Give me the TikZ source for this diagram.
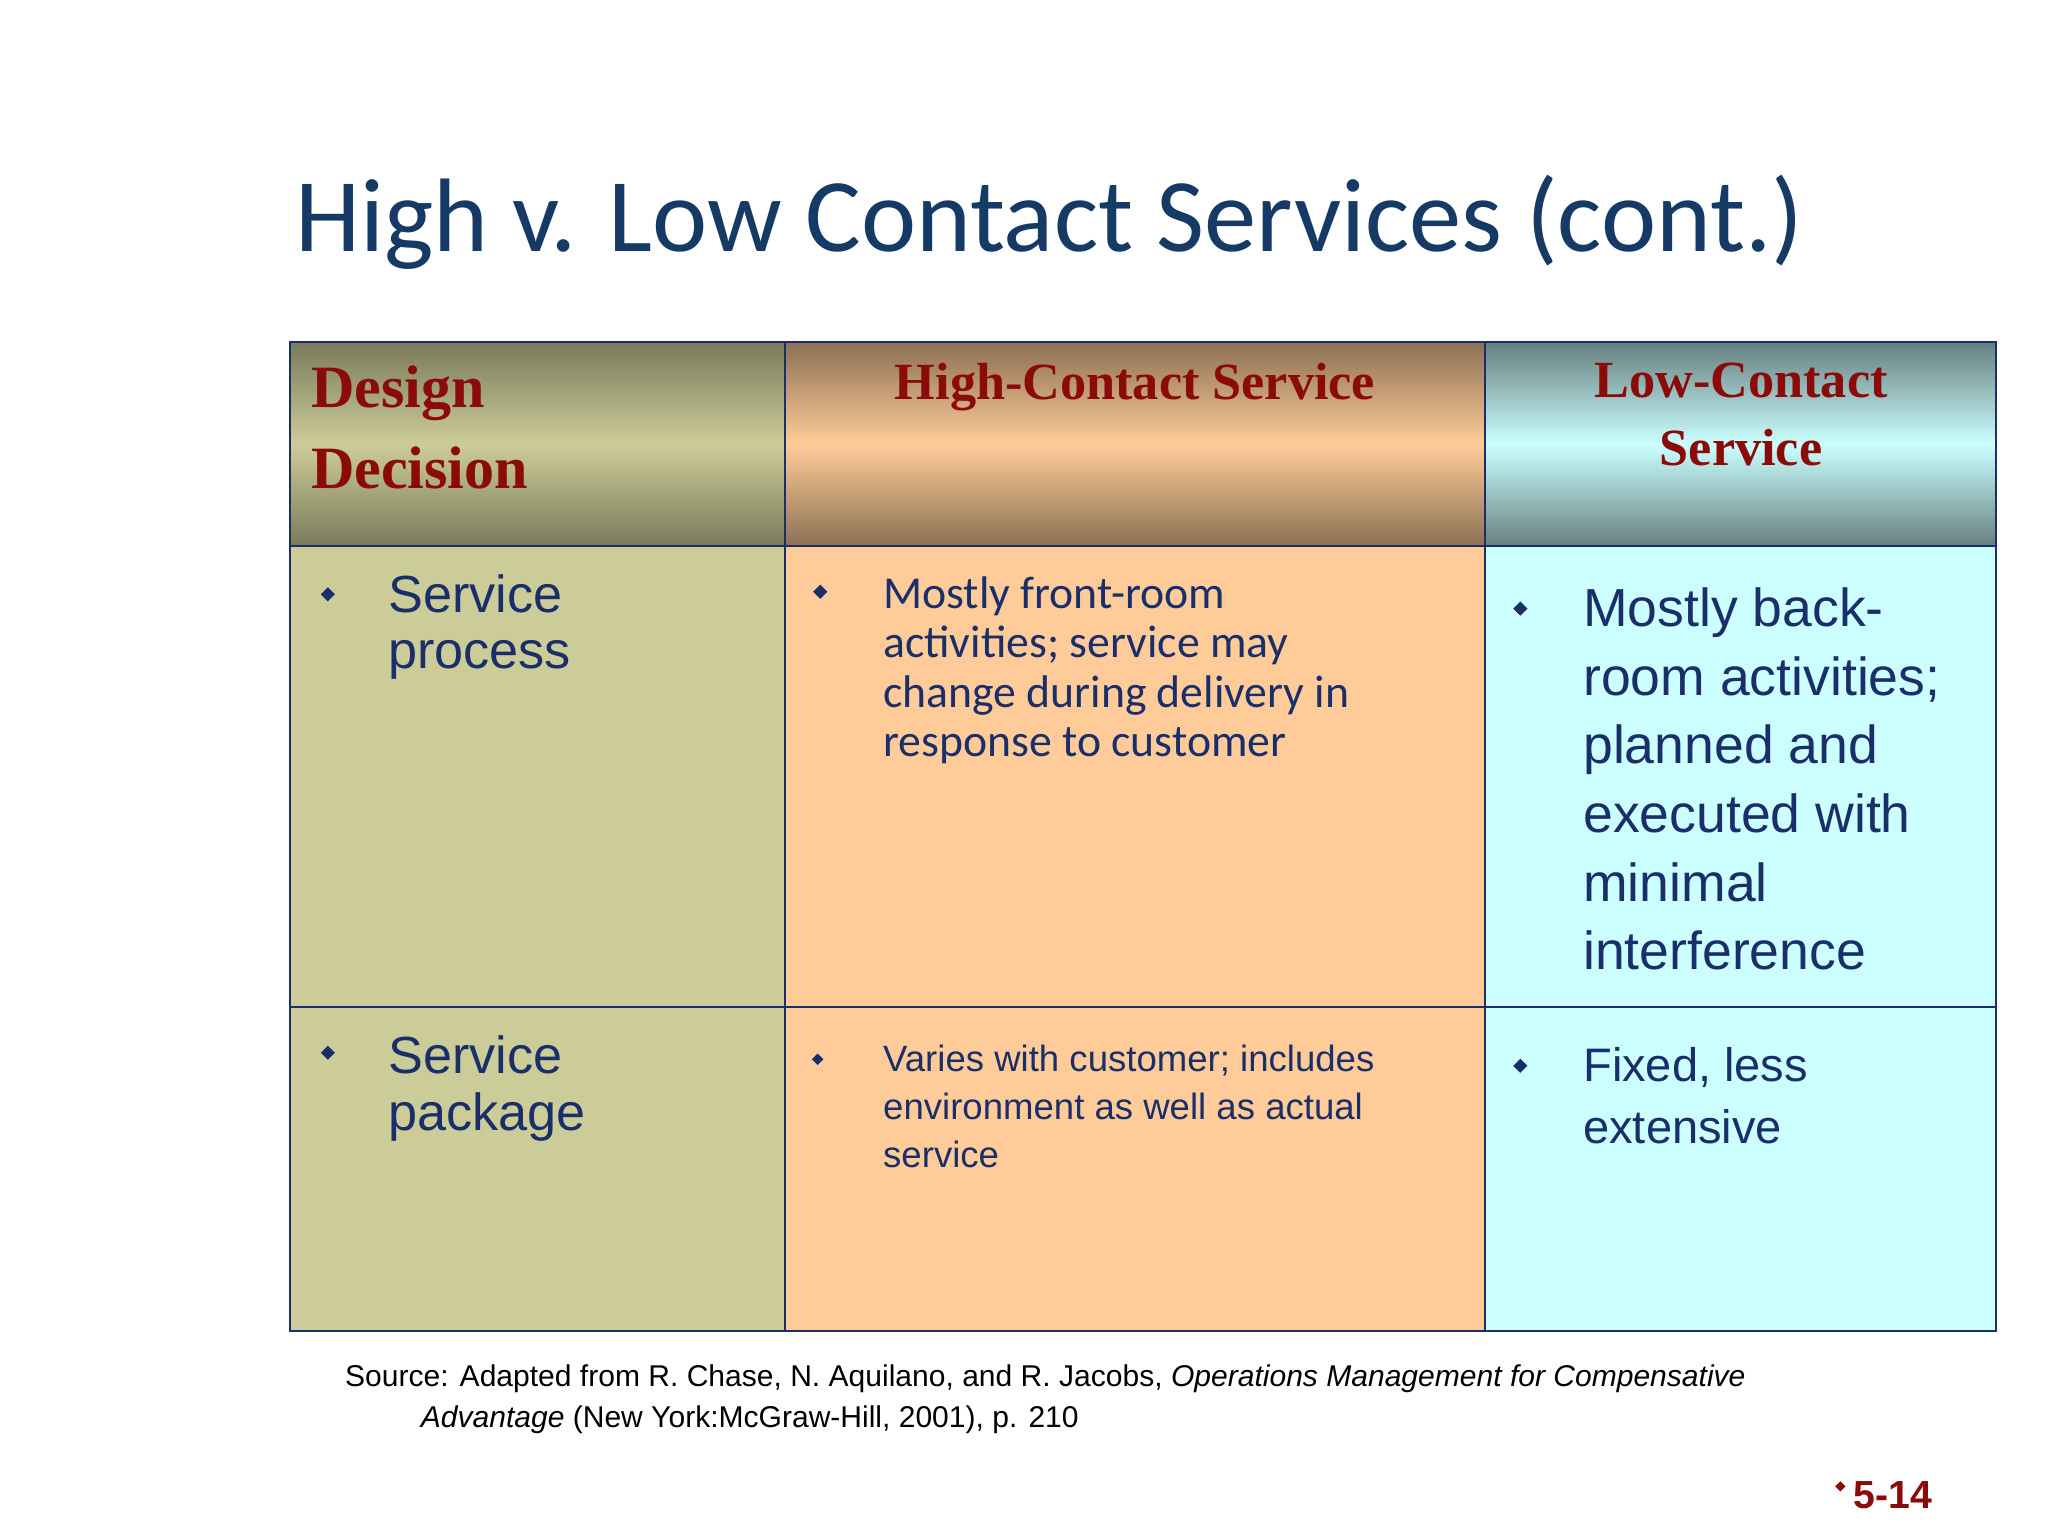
\documentclass[tikz,border=0pt]{standalone}
\usepackage{fontspec}
\setmainfont{Liberation Sans}
\newfontfamily\carl{Carlito}
\newfontfamily\tms{Liberation Serif}
\usetikzlibrary{shapes.geometric}
\definecolor{navy}{HTML}{1A2F6A}
\definecolor{ttl}{HTML}{163A66}
\definecolor{dred}{HTML}{8B0A0A}
\definecolor{olv}{HTML}{CCCC99}
\definecolor{org}{HTML}{FFCC99}
\definecolor{cyn}{HTML}{CCFFFF}
\tikzset{x=1pt,y=-1pt,
 cellb/.style={draw=navy,line width=1.2pt},
 bul/.style={diamond,fill=navy,inner sep=0pt,minimum size=11pt},
 txt/.style={anchor=north west,align=left,inner sep=0pt,text=navy},
 hdr/.style={text=dred,font=\tms\bfseries,align=center,inner sep=0pt}}
\begin{document}
\begin{tikzpicture}
\useasboundingbox (0,0) rectangle (1568,1176);
\fill[white] (0,0) rectangle (1568,1176);
\node[anchor=west,text=ttl,font=\carl\fontsize{80}{90}\selectfont,inner sep=0pt] (title) at (226,170) {High v. Low Contact Services (cont.)};
% headers
\shade[top color=olv!60!black,bottom color=olv!60!black,middle color=olv] (222,262) rectangle (601,418);
\shade[top color=org!55!black,bottom color=org!55!black,middle color=org] (601,262) rectangle (1137,418);
\shade[top color=cyn!50!black,bottom color=cyn!50!black,middle color=cyn] (1137,262) rectangle (1528,418);
\fill[olv] (222,418) rectangle (601,1019);
\fill[org] (601,418) rectangle (1137,1019);
\fill[cyn] (1137,418) rectangle (1528,1019);
\draw[cellb] (222,262) rectangle (1528,1019);
\draw[cellb] (601,262) -- (601,1019) (1137,262) -- (1137,1019) (222,418) -- (1528,418) (222,771) -- (1528,771);
\node[hdr,anchor=north west,align=left,font=\tms\bfseries\fontsize{46}{62}\selectfont] (h1) at (238,280) {Design\\Decision};
\node[hdr,anchor=north,font=\tms\bfseries\fontsize{40}{52}\selectfont] (h2) at (869,278) {High-Contact Service};
\node[hdr,anchor=north,font=\tms\bfseries\fontsize{40}{52}\selectfont] (h3) at (1333,278) {Low-Contact\\Service};
% row 1
\node[bul] (b1) at (251,455) {};
\node[txt,font=\fontsize{40}{43}\selectfont] (t1) at (297,440) {Service\\process};
\node[bul] (b2) at (628,453) {};
\node[txt,font=\carl\fontsize{35}{38}\selectfont] (t2) at (676,441) {Mostly front-room\\activities; service may\\change during delivery in\\response to customer};
\node[bul] (b3) at (1164,466) {};
\node[txt,font=\fontsize{41}{52.5}\selectfont] (t3) at (1212,450) {Mostly back-\\room activities;\\planned and\\executed with\\minimal\\interference};
% row 2
\node[bul] (b4) at (251,806) {};
\node[txt,font=\fontsize{40}{43}\selectfont] (t4) at (297,793) {Service\\package};
\node[bul,minimum size=9pt] (b5) at (626,811) {};
\node[txt,font=\fontsize{28}{36.5}\selectfont] (t5) at (676,800) {Varies with customer; includes\\environment as well as actual\\service};
\node[bul] (b6) at (1164,816) {};
\node[txt,font=\fontsize{36}{47}\selectfont] (t6) at (1212,802) {Fixed, less\\extensive};
% source
\node[anchor=north west,align=left,inner sep=0pt,font=\fontsize{23}{31}\selectfont] (src) at (264,1045) {Source: Adapted from R. Chase, N. Aquilano, and R. Jacobs, \textit{Operations Management for Compensative}\\\hspace*{58pt}\textit{Advantage} (New York:McGraw-Hill, 2001), p. 210};
\node[bul,fill=dred,minimum size=8pt] (b7) at (1409,1138) {};
\node[anchor=west,inner sep=0pt,text=dred,font=\bfseries\fontsize{30}{34}\selectfont] (pg) at (1419,1145) {5-14};
\end{tikzpicture}
\end{document}
